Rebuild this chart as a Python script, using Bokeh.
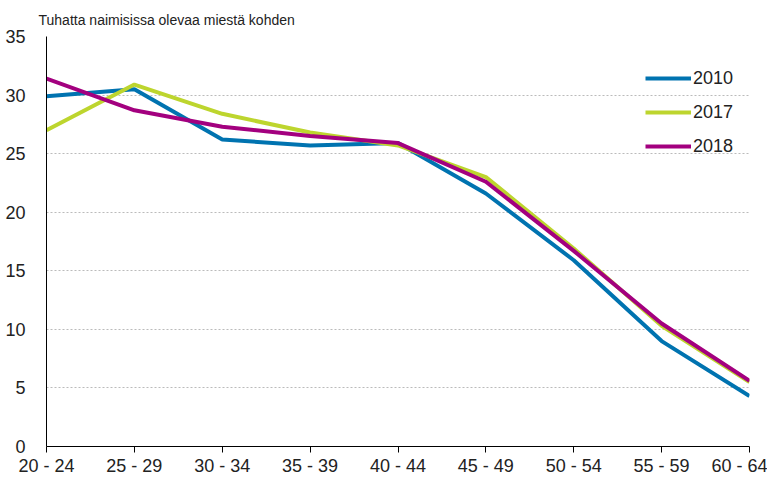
from bokeh.plotting import figure
from bokeh.models import FixedTicker, Legend, LegendItem, Title, Range1d
from bokeh.embed import file_html
from bokeh.resources import INLINE

age_groups = ["20 - 24", "25 - 29", "30 - 34", "35 - 39", "40 - 44",
              "45 - 49", "50 - 54", "55 - 59", "60 - 64"]
y2010 = [29.9, 30.5, 26.2, 25.7, 25.9, 21.6, 15.9, 9.0, 4.3]
y2017 = [27.0, 30.9, 28.4, 26.8, 25.7, 23.0, 16.9, 10.3, 5.5]
y2018 = [31.4, 28.7, 27.3, 26.5, 25.9, 22.6, 16.7, 10.5, 5.6]
series = [("2010", y2010, "#0073b0"), ("2017", y2017, "#bdd52e"), ("2018", y2018, "#a3007f")]
title_text = "Tuhatta naimisissa olevaa miestä kohden"

FONT = "Liberation Sans"
xs = list(range(len(age_groups)))

p = figure(frame_width=703, frame_height=410, output_backend="svg", toolbar_location=None,
           x_range=Range1d(0, len(age_groups) - 1), y_range=Range1d(0, 35),
           min_border_left=46, min_border_top=36, min_border_right=18, min_border_bottom=32)
p.outline_line_color = None
p.background_fill_color = "white"

items = []
for name, ys, col in series:
    r = p.line(xs, ys, line_color=col, line_width=4)
    items.append(LegendItem(label=name, renderers=[r]))

p.xaxis.ticker = FixedTicker(ticks=xs)
p.xaxis.major_label_overrides = {i: lab for i, lab in enumerate(age_groups)}
p.xaxis.major_tick_in = 0
p.xaxis.major_tick_out = 6
p.xaxis.minor_tick_line_color = None
p.xaxis.axis_line_color = "black"
p.xaxis.major_tick_line_color = "black"
p.xaxis.major_label_text_font = FONT
p.xaxis.major_label_text_font_size = "18px"
p.xaxis.major_label_text_color = "#222222"
p.xaxis.major_label_standoff = 3

p.yaxis.ticker = FixedTicker(ticks=[0, 5, 10, 15, 20, 25, 30, 35])
p.yaxis.major_tick_line_color = None
p.yaxis.minor_tick_line_color = None
p.yaxis.axis_line_color = "black"
p.yaxis.major_label_text_font = FONT
p.yaxis.major_label_text_font_size = "18px"
p.yaxis.major_label_text_color = "#222222"
p.yaxis.major_label_standoff = 15

p.xgrid.grid_line_color = None
p.ygrid.grid_line_color = "#bbbbbb"
p.ygrid.grid_line_dash = "2 2"
p.ygrid.grid_line_width = 1

legend = Legend(items=items, location=(599, 289), orientation="vertical",
                border_line_color=None, background_fill_alpha=0,
                padding=0, margin=0, spacing=12, label_height=22, glyph_height=22,
                glyph_width=46, label_standoff=2,
                label_text_font=FONT, label_text_font_size="18px", label_text_color="#222222")
p.add_layout(legend, "center")

p.add_layout(Title(text=title_text, text_font=FONT, text_font_size="14px",
                   text_font_style="normal", text_color="#222222", offset=-8,
                   standoff=17), "above")

open("out.html", "w").write(file_html(p, INLINE))
